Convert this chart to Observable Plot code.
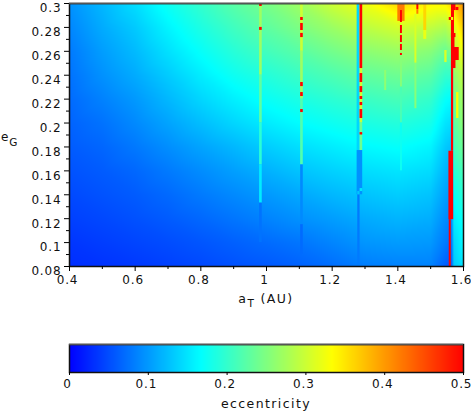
<!DOCTYPE html>
<html>
<head>
<meta charset="utf-8">
<script src="https://cdn.jsdelivr.net/npm/d3@7"></script>
<script src="https://cdn.jsdelivr.net/npm/@observablehq/plot@0.6"></script>
<style>
html,body{margin:0;padding:0;background:#fff}
svg{display:block;background:#fff;overflow:visible}
svg text{font-family:"DejaVu Sans",sans-serif;font-size:12px;letter-spacing:.85px;fill:#111}
svg text.wide{font-size:12.5px;letter-spacing:1.4px}
</style>
</head>
<body>
<div id="c"></div>
<script>
const xMajor=[0.4,0.6,0.8,1,1.2,1.4,1.6];
const xMinor=[0.5,0.7,0.9,1.1,1.3,1.5];
const yMajor=[0.08,0.1,0.12,0.14,0.16,0.18,0.2,0.22,0.24,0.26,0.28,0.3];
const yMinor=[0.09,0.11,0.13,0.15,0.17,0.19,0.21,0.23,0.25,0.27,0.29];
const cbTicks=[0,0.1,0.2,0.3,0.4,0.5];
const stops=[0,1/6,1/3,0.5];
const stopColors=["#0000ff","#00ffff","#ffff00","#ff0000"];

// background eccentricity, one column per semi-major axis
const aGrid=[0.4,0.5,0.6,0.7,0.8,0.9,1.0,1.1,1.2,1.3,1.4,1.5,1.545,1.563,1.571,1.6];
const eGrid=[0.08,0.1,0.12,0.14,0.16,0.18,0.2,0.22,0.24,0.26,0.28,0.3];
const col040=[.03,.035,.042,.048,.054,.06,.065,.07,.075,.08,.088,.096];
const col050=[.033,.04,.047,.054,.06,.067,.075,.085,.095,.103,.112,.12];
const col060=[.037,.045,.053,.06,.068,.079,.09,.1,.112,.122,.132,.145];
const col070=[.042,.05,.06,.069,.08,.093,.107,.12,.133,.147,.16,.175];
const col080=[.047,.056,.068,.08,.092,.107,.124,.14,.155,.17,.185,.2];
const col090=[.053,.063,.077,.09,.104,.12,.14,.157,.175,.192,.208,.225];
const col100=[.058,.07,.086,.1,.116,.134,.154,.172,.19,.21,.228,.245];
const col110=[.064,.077,.095,.11,.128,.146,.166,.184,.204,.225,.248,.27];
const col120=[.072,.087,.103,.12,.137,.155,.175,.195,.217,.242,.268,.3];
const col130=[.082,.098,.112,.128,.145,.164,.184,.205,.23,.258,.29,.325];
const col140=[.085,.102,.118,.134,.15,.169,.19,.213,.238,.268,.305,.36];
const col150=[.085,.1,.114,.128,.144,.16,.18,.2,.225,.255,.293,.34];
const col154=[.062,.08,.092,.105,.118,.132,.15,.17,.2,.235,.282,.34];
const col1563=[.058,.072,.086,.098,.11,.125,.145,.165,.2,.25,.3,.36];
const col1571=[.13,.14,.155,.17,.19,.21,.225,.24,.26,.285,.31,.36];
const col160=[.15,.165,.175,.195,.215,.24,.26,.275,.295,.33,.37,.41];
const columns=[col040,col050,col060,col070,col080,col090,col100,col110,col120,col130,col140,col150,col154,col1563,col1571,col160];

// resonance stripes: [a from, a to, e from, e to, eccentricity]
const stripes=[
[.979,.987,.3,.24,.27],[.979,.987,.24,.2,.23],[.979,.987,.2,.165,.195],[.979,.987,.165,.133,.155],[.979,.987,.133,.1,.075],
[1.104,1.112,.3,.26,.3],[1.104,1.112,.26,.22,.27],[1.104,1.112,.22,.165,.22],[1.104,1.112,.165,.115,.09],[1.104,1.112,.115,.09,.07],
[1.276,1.285,.3,.177,.14],[1.285,1.293,.3,.2,.3],[1.285,1.293,.2,.177,.24],
[1.276,1.293,.177,.14,.095],[1.278,1.285,.14,.08,.08],[1.285,1.293,.1452,.1427,.15],[1.278,1.285,.1427,.14,.13],
[1.408,1.414,.2565,.23,.255],[1.408,1.414,.23,.2,.215],[1.408,1.414,.2,.16,.175],
[1.4,1.422,.3,.285,.42],[1.458,1.464,.295,.291,.42],
[1.479,1.488,.3,.2774,.36],[1.479,1.488,.2774,.27,.32],[1.452,1.458,.2908,.25,.31],[1.452,1.458,.25,.212,.255],[1.36,1.366,.244,.2272,.26],
[1.543,1.55,.2607,.2506,.31],[1.579,1.586,.2255,.2038,.33]
];
// cells that reached the 0.5 cap: [a from, a to, e from, e to]
const capped=[
[.979,.987,.3,.2975],[.979,.987,.28,.2775],
[1.104,1.112,.2883,.2858],[1.104,1.112,.2833,.2774],[1.104,1.112,.275,.2715],[1.104,1.112,.2339,.2305],[1.104,1.112,.2255,.2222],[1.104,1.112,.2113,.2088],
[1.285,1.293,.3,.2456],[1.285,1.293,.2414,.2339],[1.285,1.293,.2305,.2255],[1.285,1.293,.2222,.2197],[1.285,1.293,.2172,.2146],[1.285,1.293,.2113,.2038],[1.285,1.293,.192,.19],
[1.408,1.414,.2941,.2841],[1.408,1.414,.2816,.2749],[1.408,1.414,.2732,.2674],[1.408,1.414,.2657,.2607],[1.408,1.414,.2582,.2565],
[1.458,1.464,.3,.295],
[1.5566,1.5627,.1192,.08],[1.5556,1.57,.1764,.1192],[1.5633,1.57,.2456,.1764],
[1.5633,1.587,.2632,.2523],[1.5633,1.577,.2523,.2456],
[1.5633,1.574,.2749,.2632],[1.5633,1.577,.2749,.2715],[1.5633,1.5725,.2858,.2749],
[1.5566,1.5633,.2883,.2858],[1.57,1.5725,.2883,.2858],[1.5633,1.5725,.2941,.2883],
[1.5633,1.577,.3,.2941],[1.577,1.586,.2967,.2941]
];

const points=columns.flatMap((c,i)=>c.map((v,j)=>({a:aGrid[i],e:eGrid[j],v})));
const colorScale={type:"linear",domain:stops,range:stopColors,interpolate:"rgb"};
const num=d=>String(d);

const main=Plot.plot({
  width:471,height:320,marginLeft:69,marginRight:8,marginTop:3,marginBottom:54,
  x:{domain:[0.4,1.6],label:null},
  y:{domain:[0.08,0.3],label:null},
  color:colorScale,
  marks:[
    Plot.raster(points,{x:"a",y:"e",fill:"v",interpolate:"barycentric"}),
    Plot.rect(stripes,{x1:d=>d[0],x2:d=>d[1],y1:d=>d[2],y2:d=>d[3],fill:d=>d[4]}),
    Plot.rect(capped,{x1:d=>d[0],x2:d=>d[1],y1:d=>d[2],y2:d=>d[3],fill:()=>0.5}),
    Plot.frame({stroke:"#111",strokeWidth:1.5}),
    Plot.ruleY([0.3],{stroke:"#555",strokeWidth:1.5}),
    Plot.axisX({ticks:xMajor,tickSize:5,tickPadding:4,tickFormat:num,label:null}),
    Plot.axisX({ticks:xMinor,tickSize:3,tickFormat:()=>"",label:null}),
    Plot.axisY({ticks:yMajor,tickSize:5,tickPadding:3,tickFormat:num,label:null}),
    Plot.axisY({ticks:yMinor,tickSize:3,tickFormat:()=>"",label:null})
  ]
});
const sel=d3.select(main);
sel.append("text").attr("class","wide").attr("x",266).attr("y",303).attr("text-anchor","middle")
  .html('a<tspan dy="4" style="font-size:10.5px">T</tspan><tspan dy="-4"> (AU)</tspan>');
sel.append("text").attr("x",1).attr("y",141).attr("text-anchor","start")
  .html('e<tspan dy="5" style="font-size:10.5px">G</tspan>');
sel.selectAll('[aria-label="y-axis tick label"] text').attr("dy","0.42em");
sel.selectAll('[aria-label="x-axis tick label"] text').attr("dx",-2);

const bar=Plot.plot({
  width:471,height:91,marginLeft:69,marginRight:8,marginTop:24,marginBottom:39,
  x:{domain:[0,0.5],label:null},
  y:{domain:[0,1],axis:null},
  color:colorScale,
  marks:[
    Plot.raster({x1:0,x2:0.5,y1:0,y2:1,fill:(x,y)=>x,width:394,height:2}),
    Plot.frame({stroke:"#111",strokeWidth:1.5}),
    Plot.ruleY([1],{stroke:"#555",strokeWidth:1.5}),
    Plot.axisX({ticks:cbTicks,tickSize:3,tickPadding:4,tickFormat:num,label:null})
  ]
});
const barSel=d3.select(bar);
barSel.append("text").attr("class","wide").attr("x",266).attr("y",88).attr("text-anchor","middle").text("eccentricity");
barSel.selectAll('[aria-label="x-axis tick label"] text').attr("dx",-2);

document.getElementById("c").append(main,bar);
</script>
</body>
</html>
